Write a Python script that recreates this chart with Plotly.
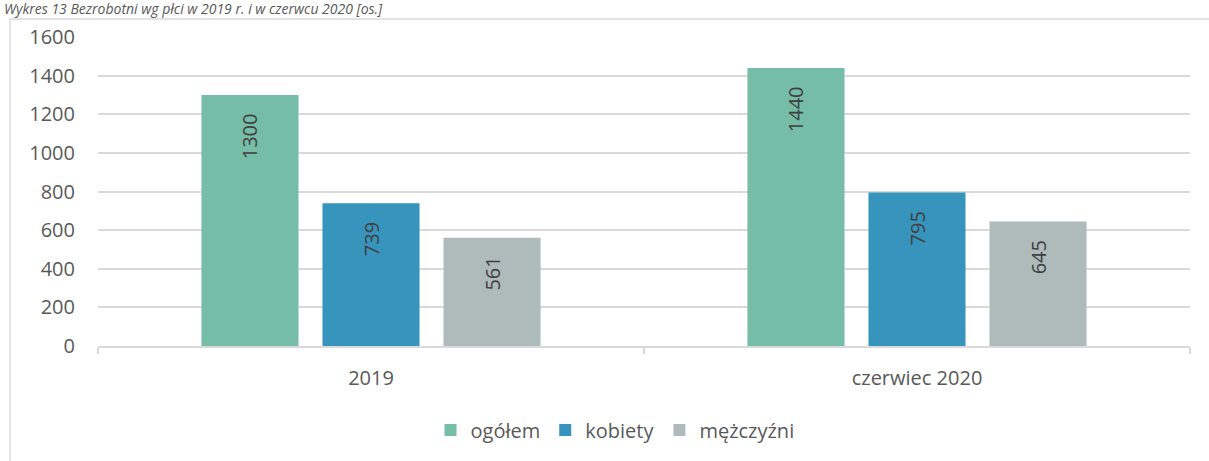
import plotly.graph_objects as go

categories = ["2019", "czerwiec 2020"]
series_names = ["ogółem", "kobiety", "mężczyźni"]
ogolem = [1300, 1440]
kobiety = [739, 795]
mezczyzni = [561, 645]
colors = ["#75BDA7", "#3794BC", "#AFBABA"]
y_ticks = [0, 200, 400, 600, 800, 1000, 1200, 1400, 1600]
title_text = "Wykres 13 Bezrobotni wg płci w 2019 r. i w czerwcu 2020 [os.]"

FONT = "Open Sans"
TXT = "#595959"

L, R, T, B = 98, 19, 37, 115
PW = 1209 - L - R
PH = 461 - T - B

fig = go.Figure()
for name, vals, col in zip(series_names, [ogolem, kobiety, mezczyzni], colors):
    fig.add_trace(go.Bar(
        x=categories, y=vals, name=name,
        marker=dict(color=col, line=dict(width=0)),
        text=[str(v) + "\u00a0\u00a0\u00a0" for v in vals],
        textposition="inside", insidetextanchor="end",
        textangle=-90,
        textfont=dict(family=FONT, size=20, color="#404040"),
        constraintext="none",
        cliponaxis=False,
    ))

fig.update_layout(
    width=1209, height=461,
    margin=dict(l=L, r=R, t=T, b=B),
    paper_bgcolor="white", plot_bgcolor="white",
    barmode="group", bargap=0.335, bargroupgap=0.198,
    font=dict(family=FONT, size=20, color=TXT),
    showlegend=True,
    legend=dict(orientation="h", x=0.5 - 29 / PW, xanchor="center",
                y=(346 - 430) / PH, yanchor="middle",
                font=dict(family=FONT, size=20, color=TXT), itemwidth=30,
                traceorder="normal"),
    xaxis=dict(showline=True, linecolor="#d9d9d9", linewidth=1.5,
               ticks="outside", tickson="boundaries", ticklen=6, tickcolor="#d9d9d9",
               tickwidth=1.5, tickfont=dict(family=FONT, size=20, color=TXT),
               ticklabelstandoff=13, showgrid=False),
    yaxis=dict(range=[0, 1600], tickvals=y_ticks, showgrid=True, gridcolor="#d9d9d9",
               gridwidth=1.5, zeroline=False, showline=False, ticks="",
               ticklabelstandoff=22,
               tickfont=dict(family=FONT, size=20, color=TXT)),
)

# outer chart frame
fig.add_shape(type="rect", xref="paper", yref="paper",
              x0=(10 - L) / PW, x1=1.2, y0=-0.6, y1=(346 - 19) / PH,
              line=dict(color="#d9d9d9", width=1.5), fillcolor="rgba(0,0,0,0)", layer="below")

# title in the strip above the frame
fig.add_annotation(text="<i>" + title_text + "</i>", xref="paper", yref="paper",
                   x=(2 - L) / PW, xanchor="left",
                   y=(346 - 9) / PH, yanchor="middle", showarrow=False,
                   font=dict(family=FONT, size=14, color=TXT))

fig.write_html("out.html",
               config={"displayModeBar": False},
               post_script="document.body.style.margin='0';document.body.style.padding='0';")
